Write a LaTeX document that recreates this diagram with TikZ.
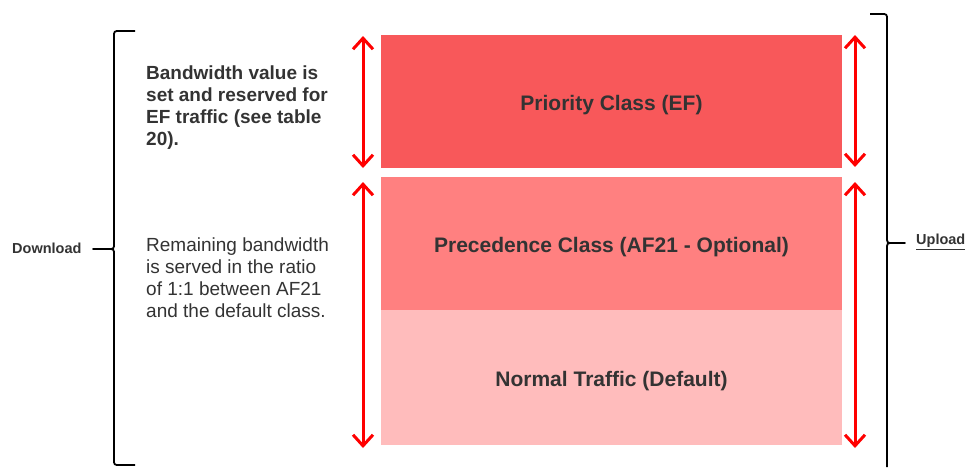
\documentclass[tikz,border=0pt]{standalone}
\usepackage{fontspec}
\setmainfont{Liberation Sans}
\usetikzlibrary{arrows.meta}
\definecolor{prio}{RGB}{248,88,90}
\definecolor{prec}{RGB}{255,128,128}
\definecolor{norm}{RGB}{255,188,188}
\definecolor{txt}{RGB}{51,51,51}
\definecolor{arr}{RGB}{255,0,0}
\begin{document}
\begin{tikzpicture}[x=1pt,y=-1pt,
    band/.style={minimum width=461pt,inner sep=0pt,text=txt,text height=18pt,text depth=0pt,
      font=\fontsize{21}{24}\selectfont\bfseries},
    span/.style={arr,line width=3pt,{Straight Barb[length=11pt,width=20pt]}-{Straight Barb[length=11pt,width=20pt]}},
    curly/.style={line width=1.8pt,line join=round},
    note/.style={anchor=west,inner sep=0pt,align=left,text=txt,
      font=\fontsize{19}{22}\selectfont},
    side/.style={anchor=west,inner sep=0pt,text=txt,font=\fontsize{14.5}{16}\selectfont\bfseries}]
  \useasboundingbox (0,0) rectangle (966,467);
  \node[band,fill=prio,minimum height=133pt] (prio) at (611.5,101.5) {Priority Class (EF)};
  \node[band,fill=prec,minimum height=133pt] (prec) at (611.5,243.5) {Precedence Class (AF21 - Optional)};
  \node[band,fill=norm,minimum height=135pt] (norm) at (611.5,377.5) {Normal Traffic (Default)};
  \node[note,font=\fontsize{19}{22}\selectfont\bfseries] (ef) at (146,108)
    {Bandwidth value is\\set and reserved for\\EF traffic (see table\\20).};
  \node[note] (rest) at (146,278)
    {Remaining bandwidth\\is served in the ratio\\of 1:1 between AF21\\and the default class.};
  \node[side] (down) at (12,248) {Download};
  \node[side] (up) at (916,242) {\underline{Upload}};
  % arrows beside the bands
  \coordinate (lt1) at (363,36);  \coordinate (lt2) at (363,168);
  \coordinate (lb1) at (363,182); \coordinate (lb2) at (363,448);
  \coordinate (rt1) at (855,35);  \coordinate (rt2) at (855,167);
  \coordinate (rb1) at (855,182); \coordinate (rb2) at (855,448);
  \draw[span] (lt1) -- (lt2);
  \draw[span] (lb1) -- (lb2);
  \draw[span] (rt1) -- (rt2);
  \draw[span] (rb1) -- (rb2);
  % braces
  \coordinate (bl1) at (135,31);  \coordinate (bl2) at (135,465); \coordinate (blt) at (93,249);
  \coordinate (br1) at (870,14);  \coordinate (br2) at (887,467); \coordinate (brt) at (905,243);
  \draw[curly] (bl1) -- (120,31) .. controls (114,31) .. (114,37) -- (114,243)
    .. controls (114,249) .. (108,249) -- (blt) -- (108,249) .. controls (114,249) .. (114,255)
    -- (114,459) .. controls (114,465) .. (120,465) -- (bl2);
  \draw[curly] (br1) -- (881,14) .. controls (887,14) .. (887,20) -- (887,237)
    .. controls (887,243) .. (893,243) -- (brt) -- (893,243) .. controls (887,243) .. (887,249)
    -- (br2);
\end{tikzpicture}
\end{document}
